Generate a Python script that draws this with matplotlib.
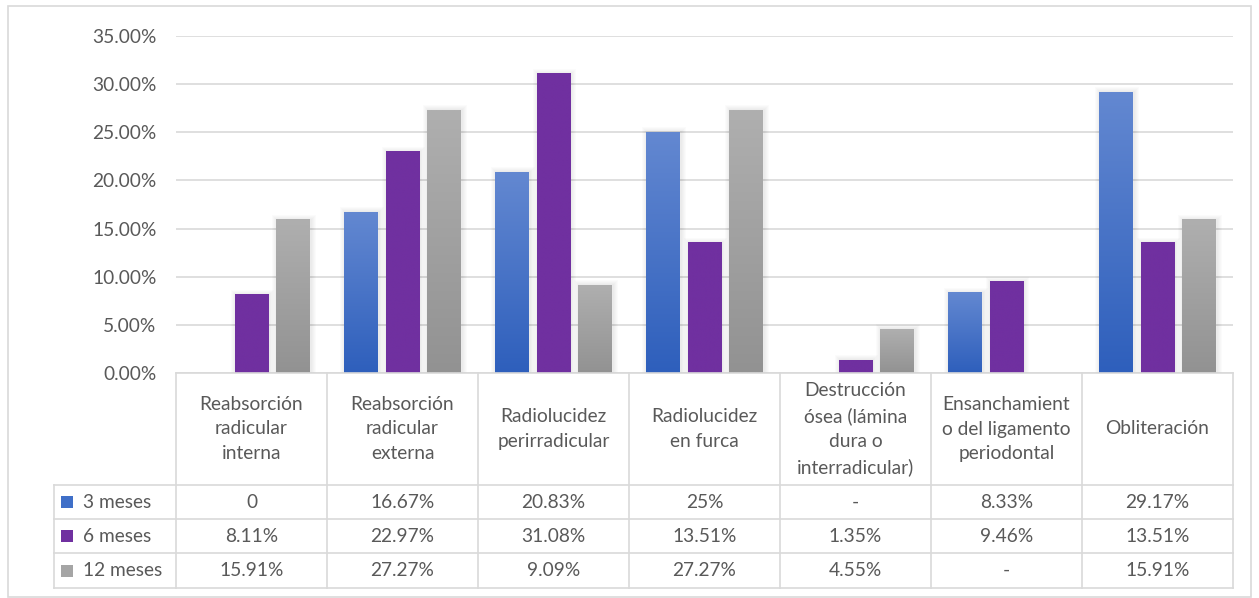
import matplotlib
matplotlib.use("Agg")
import matplotlib.pyplot as plt
import numpy as np
from matplotlib.colors import LinearSegmentedColormap
from matplotlib.lines import Line2D
from matplotlib.patches import Rectangle

categories = [
    "Reabsorción\nradicular\ninterna",
    "Reabsorción\nradicular\nexterna",
    "Radiolucidez\nperirradicular",
    "Radiolucidez\nen furca",
    "Destrucción\nósea (lámina\ndura o\ninterradicular)",
    "Ensanchamient\no del ligamento\nperiodontal",
    "Obliteración",
]
series_names = ["3 meses", "6 meses", "12 meses"]
v3 = [0.0, 16.67, 20.83, 25.0, 0.0, 8.33, 29.17]
v6 = [8.11, 22.97, 31.08, 13.51, 1.35, 9.46, 13.51]
v12 = [15.91, 27.27, 9.09, 27.27, 4.55, 0.0, 15.91]
t3 = ["0", "16.67%", "20.83%", "25%", "-", "8.33%", "29.17%"]
t6 = ["8.11%", "22.97%", "31.08%", "13.51%", "1.35%", "9.46%", "13.51%"]
t12 = ["15.91%", "27.27%", "9.09%", "27.27%", "4.55%", "-", "15.91%"]
yticks = [0, 5, 10, 15, 20, 25, 30, 35]

W, H = 1259, 598
FONT = "Lato"
FS = 13.8
TXT = "#595959"
GRID = "#d9d9d9"

fig = plt.figure(figsize=(W / 100, H / 100), dpi=100)

def fx(x):
    return x / W

def fy(y):
    return 1 - y / H

# outer border
fig.add_artist(Rectangle((fx(8), fy(597)), fx(1251) - fx(8), fy(6) - fy(597),
                         transform=fig.transFigure, fill=False, ec="#d9d9d9", lw=1.2))

L, R, T, B = 176, 1233, 36, 373
ax = fig.add_axes([fx(L), fy(B), fx(R) - fx(L), fy(T) - fy(B)])
n = len(categories)
ax.set_xlim(-0.5, n - 0.5)
ax.set_ylim(0, 35)
for s in ax.spines.values():
    s.set_visible(False)
ax.set_xticks([])
ax.set_yticks(yticks)
ax.set_yticklabels([f"{v:.2f}%" for v in yticks], fontsize=FS, color=TXT, family=FONT)
ax.tick_params(axis="y", length=0, pad=14)
ax.yaxis.grid(True, color=GRID, lw=1.2)
ax.set_axisbelow(True)

cmaps = [
    LinearSegmentedColormap.from_list("b", ["#2e5fbc", "#6388d1"]),
    LinearSegmentedColormap.from_list("p", ["#7030a0", "#7030a0"]),
    LinearSegmentedColormap.from_list("g", ["#929292", "#afafaf"]),
]
grad = np.linspace(0, 1, 256).reshape(-1, 1)
bw = 0.225
step = 0.272
pxx = 1 / 151.0
pxy = 35 / 337.0
for si, vals in enumerate([v3, v6, v12]):
    for ci, v in enumerate(vals):
        if v <= 0:
            continue
        xc = ci + (si - 1) * step
        x0, x1 = xc - bw / 2, xc + bw / 2
        # soft shadow
        for k in range(1, 6):
            ax.add_patch(Rectangle((x0 - k * pxx + pxx, 0), (x1 - x0) + 2 * k * pxx,
                                   v + k * pxy, color="black", alpha=0.016, lw=0, zorder=2))
        ax.imshow(grad, extent=[x0, x1, 0, v], origin="lower", aspect="auto",
                  cmap=cmaps[si], zorder=3, interpolation="bilinear")
ax.set_xlim(-0.5, n - 0.5)
ax.set_ylim(0, 35)

# table
col_edges = [L + i * (R - L) / n for i in range(n + 1)]
row_y = [485, 519, 553, 588]
lw = 1.2
def hline(x0, x1, y):
    fig.add_artist(Line2D([fx(x0), fx(x1)], [fy(y), fy(y)], transform=fig.transFigure, color=GRID, lw=lw))
def vline(x, y0, y1):
    fig.add_artist(Line2D([fx(x), fx(x)], [fy(y0), fy(y1)], transform=fig.transFigure, color=GRID, lw=lw))

LEG = 54
hline(L, R, B)
for y in row_y:
    hline(LEG, R, y)
for x in col_edges:
    vline(x, B, row_y[-1])
vline(LEG, row_y[0], row_y[-1])

for ci, c in enumerate(categories):
    xc = (col_edges[ci] + col_edges[ci + 1]) / 2
    fig.text(fx(xc), fy((B + row_y[0]) / 2), c, ha="center", va="center", fontsize=FS,
             color=TXT, family=FONT, linespacing=1.54)

colors_leg = ["#3f6fc8", "#7030a0", "#a5a5a5"]
for ri, (name, labels) in enumerate(zip(series_names, [t3, t6, t12])):
    yc = (row_y[ri] + row_y[ri + 1]) / 2
    fig.add_artist(Rectangle((fx(61), fy(yc + 6)), fx(12), 12 / H, transform=fig.transFigure,
                             color=colors_leg[ri], lw=0))
    fig.text(fx(83), fy(yc), name, ha="left", va="center", fontsize=FS, color=TXT, family=FONT)
    for ci, lab in enumerate(labels):
        xc = (col_edges[ci] + col_edges[ci + 1]) / 2
        fig.text(fx(xc), fy(yc), lab, ha="center", va="center", fontsize=FS, color=TXT, family=FONT)

fig.savefig("out.png", dpi=100)
